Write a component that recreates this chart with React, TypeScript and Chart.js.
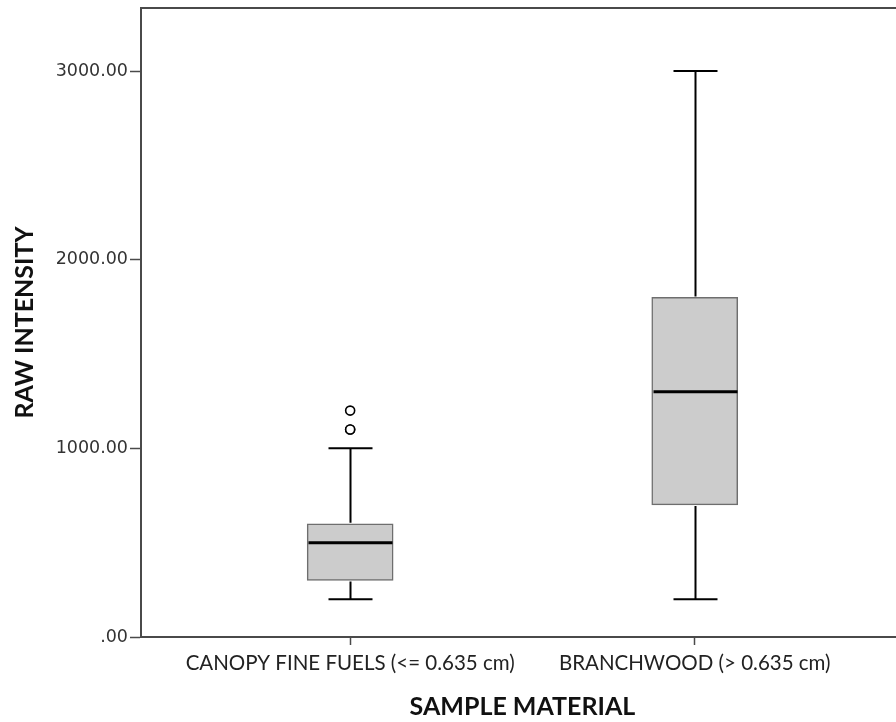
import React, { useEffect, useRef } from "react";
import { Chart, registerables } from "chart.js";

Chart.register(...registerables);

const CATEGORIES = ["CANOPY FINE FUELS (<= 0.635 cm)", "BRANCHWOOD (> 0.635 cm)"];
const CAT_POS = [1, 2];
const MINS = [200, 200];
const Q1S = [300, 700];
const MEDIANS = [500, 1300];
const Q3S = [600, 1800];
const MAXS = [1000, 3000];
const OUTLIER_CAT = [1, 1, 1];
const OUTLIER_VALUES = [1100, 1100, 1200];
const Y_TICKS = [0, 1000, 2000, 3000];
const Y_TICK_LABELS = [".00", "1000.00", "2000.00", "3000.00"];

const boxPlugin = {
  id: "boxParts",
  afterDatasetsDraw(chart: any) {
    const { ctx, scales } = chart;
    const xs = scales.x;
    const ys = scales.y;
    ctx.save();
    ctx.strokeStyle = "#000";
    CAT_POS.forEach((c, i) => {
      const cx = Math.round(xs.getPixelForValue(c)) + 0.5;
      const yMin = ys.getPixelForValue(MINS[i]);
      const yMax = ys.getPixelForValue(MAXS[i]);
      const yQ1 = ys.getPixelForValue(Q1S[i]);
      const yQ3 = ys.getPixelForValue(Q3S[i]);
      const yMed = ys.getPixelForValue(MEDIANS[i]);
      ctx.lineWidth = 2;
      ctx.beginPath();
      ctx.moveTo(cx, yQ3 - 1);
      ctx.lineTo(cx, yMax);
      ctx.moveTo(cx, yQ1 + 1);
      ctx.lineTo(cx, yMin);
      ctx.moveTo(cx - 22, yMax);
      ctx.lineTo(cx + 22, yMax);
      ctx.moveTo(cx - 22, yMin);
      ctx.lineTo(cx + 22, yMin);
      ctx.stroke();
      ctx.lineWidth = 3;
      ctx.beginPath();
      ctx.moveTo(cx - 42, yMed);
      ctx.lineTo(cx + 42, yMed);
      ctx.stroke();
    });
    const a = chart.chartArea;
    ctx.strokeStyle = "#4a4a4a";
    ctx.lineWidth = 2;
    ctx.beginPath();
    ctx.moveTo(a.left - 1, a.top);
    ctx.lineTo(a.right + 20, a.top);
    ctx.stroke();
    ctx.restore();
  },
};

export default function App() {
  const ref = useRef<HTMLCanvasElement>(null);
  useEffect(() => {
    if (!ref.current) return;
    const chart = new Chart(ref.current, {
      type: "bar",
      data: {
        datasets: [
          {
            type: "bar",
            data: CAT_POS.map((c, i) => ({ x: c, y: [Q1S[i], Q3S[i]] })) as any,
            backgroundColor: "#cccccc",
            borderColor: "#6e6e6e",
            borderWidth: 1.5,
            borderSkipped: false,
            barThickness: 86,
          } as any,
          {
            type: "scatter",
            data: OUTLIER_VALUES.map((v, i) => ({ x: OUTLIER_CAT[i], y: v })),
            pointStyle: "circle",
            pointRadius: 4.5,
            backgroundColor: "rgba(255,255,255,1)",
            borderColor: "#000",
            borderWidth: 1.6,
          } as any,
        ],
      },
      options: {
        responsive: false,
        animation: false,
        layout: { padding: { top: 8, right: 3, left: 0, bottom: 0 } },
        plugins: { legend: { display: false }, tooltip: { enabled: false } },
        scales: {
          x: {
            type: "linear",
            offset: false,
            min: 0.393,
            max: 2.607,
            afterBuildTicks: (s: any) => {
              s.ticks = CAT_POS.map((v) => ({ value: v }));
            },
            afterFit: (s: any) => {
              s.height = 85;
            },
            ticks: {
              callback: (v: any) => CATEGORIES[CAT_POS.indexOf(v)] ?? "",
              color: "#222",
              font: { family: "Lato", size: 20.5 },
              padding: 6,
              maxRotation: 0,
              autoSkip: false,
            },
            grid: { offset: false, drawOnChartArea: false, tickLength: 8, tickColor: "#4a4a4a", tickWidth: 1.5 },
            border: { color: "#4a4a4a", width: 2 },
            title: {
              display: true,
              text: "SAMPLE MATERIAL",
              color: "#111",
              font: { family: "Lato", size: 25, weight: "bold" },
              padding: { top: 0, bottom: 0 },
            },
          },
          y: {
            min: 0,
            max: 3334,
            afterBuildTicks: (s: any) => {
              s.ticks = Y_TICKS.map((v) => ({ value: v }));
            },
            afterFit: (s: any) => {
              s.width = 141;
              s.paddingTop = 0;
              s.paddingBottom = 0;
            },
            ticks: {
              callback: (v: any) => Y_TICK_LABELS[Y_TICKS.indexOf(v)] ?? "",
              color: "#333",
              font: { family: "DejaVu Sans", size: 17.5 },
              padding: 2,
            },
            grid: { drawOnChartArea: false, tickLength: 11, tickColor: "#4a4a4a", tickWidth: 1.5 },
            border: { color: "#4a4a4a", width: 2 },
            title: {
              display: true,
              text: "RAW INTENSITY",
              color: "#111",
              font: { family: "Lato", size: 25, weight: "bold" },
              padding: { top: 10, bottom: 0 },
            },
          },
        },
      },
      plugins: [boxPlugin],
    });
    return () => chart.destroy();
  }, []);
  return (
    <div style={{ position: "fixed", left: 0, top: 0, width: 896, height: 722, overflow: "hidden", background: "#fff" }}>
      <canvas ref={ref} width={910} height={722} style={{ display: "block" }} />
    </div>
  );
}
